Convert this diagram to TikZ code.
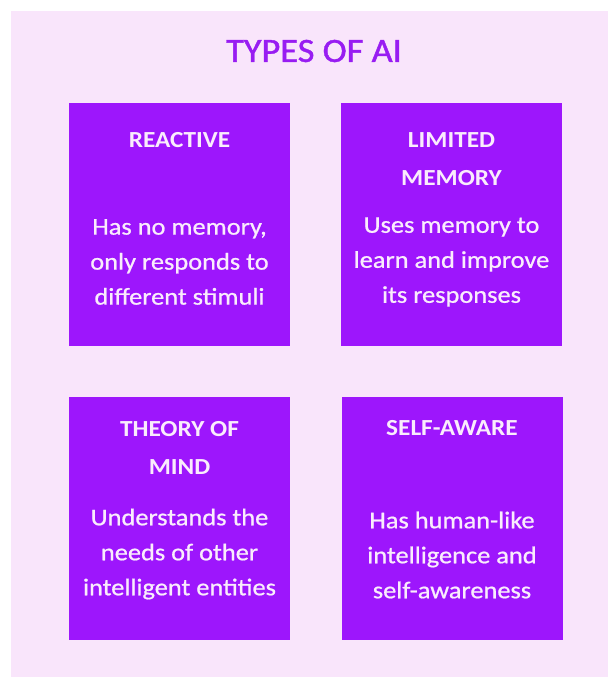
\documentclass[tikz,border=0pt]{standalone}
\usepackage{fontspec}
\setmainfont{Carlito}[FakeStretch=1.1]
\newfontfamily\medfont{Carlito}[FakeStretch=1.1,FakeBold=0.8]
\newfontfamily\titlefont{Carlito}[FakeStretch=1.07,FakeBold=1.2]
\definecolor{bgc}{RGB}{249,229,251}
\definecolor{boxc}{RGB}{157,22,252}
\definecolor{titlec}{RGB}{152,28,242}
\definecolor{txtc}{RGB}{250,236,252}
\begin{document}
\begin{tikzpicture}[x=1pt,y=-1pt,
  card/.style={fill=boxc, draw=none, minimum width=221pt, minimum height=243pt, inner sep=0pt, outer sep=0pt},
  head/.style={text=txtc, font=\fontsize{23}{38}\selectfont\bfseries, align=center, inner sep=0pt},
  body/.style={text=txtc, font=\medfont\fontsize{24}{35}\selectfont, align=center, inner sep=0pt}]
\useasboundingbox (0,0) rectangle (608,677);
\fill[white] (0,0) rectangle (608,677);
\fill[bgc] (11,11) rectangle (608,677);
\node[text=titlec, font=\titlefont\fontsize{34}{36}\selectfont, inner sep=0pt] (title) at (314,51) {TYPES OF AI};
\node[card] (b1) at (179.5,224.5) {};
\node[card] (b2) at (451.5,224.5) {};
\node[card] (b3) at (179.5,518.5) {};
\node[card] (b4) at (452,518.5) {};
\node[head] (h1) at (179.5,140) {REACTIVE};
\node[body] (t1) at (179.5,262) {Has no memory,\\only responds to\\different stimuli};
\node[head] (h2) at (451.5,159) {LIMITED\\MEMORY};
\node[body] (t2) at (451.5,262) {Uses memory to\\learn and improve\\its responses};
\node[head] (h3) at (179.5,448) {THEORY OF\\MIND};
\node[body] (t3) at (179.5,554) {Understands the\\needs of other\\intelligent entities};
\node[head] (h4) at (452,428) {SELF-AWARE};
\node[body] (t4) at (452,555) {Has human-like\\intelligence and\\self-awareness};
\end{tikzpicture}
\end{document}
